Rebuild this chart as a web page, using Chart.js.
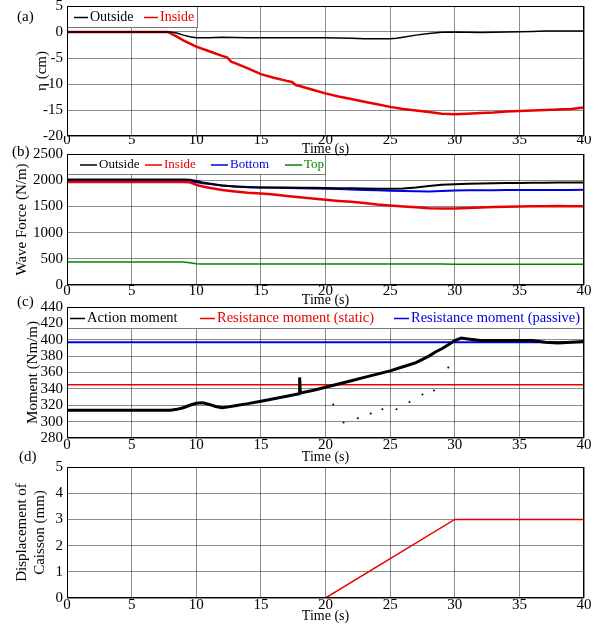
<!DOCTYPE html>
<html>
<head>
<meta charset="utf-8">
<script src="https://cdn.jsdelivr.net/npm/chart.js@4"></script>
<style>
  html, body { margin: 0; padding: 0; background: #fff; }
  #wrap { position: relative; width: 594px; height: 625px; overflow: hidden; }
  #wrap canvas { position: absolute; left: 0; }
</style>
</head>
<body>
<div id="wrap">
  <canvas id="pa" width="594" height="158" style="top:0px"></canvas>
  <canvas id="pb" width="594" height="169" style="top:140px"></canvas>
  <canvas id="pc" width="594" height="173" style="top:293px"></canvas>
  <canvas id="pd" width="594" height="175" style="top:450px"></canvas>
</div>
<script>
// shared x axis ticks (time, s)
const xTicks = [0, 5, 10, 15, 20, 25, 30, 35, 40];

// (a) water level eta (cm)
const etaTicks = [-20, -15, -10, -5, 0, 5];
const tOutA = [0, 8, 8.5, 9, 9.5, 10, 11, 12, 14, 16, 18, 20, 22, 23, 24, 25, 25.5, 26, 27, 28, 29, 30, 32, 34, 36, 37, 38, 40];
const outA  = [0, 0, -0.2, -0.6, -0.9, -1.1, -1.1, -1.0, -1.1, -1.1, -1.1, -1.1, -1.2, -1.3, -1.3, -1.3, -1.2, -1.0, -0.6, -0.3, -0.05, 0, -0.1, 0, 0.1, 0.2, 0.2, 0.2];
const tInA  = [0, 7.8, 8.5, 9, 10, 11, 12, 12.4, 12.7, 13, 14, 15, 16, 17, 17.4, 17.7, 18, 19, 20, 21, 22, 23, 24, 25, 26, 27, 28, 29, 30, 31, 32, 33, 34, 35, 36, 37, 38, 39, 40];
const inA   = [0, 0, -0.9, -1.6, -2.8, -3.7, -4.6, -4.9, -5.7, -6.0, -7.0, -8.1, -8.8, -9.4, -9.6, -10.2, -10.4, -11.1, -11.8, -12.4, -12.9, -13.4, -13.9, -14.4, -14.8, -15.1, -15.4, -15.7, -15.8, -15.7, -15.6, -15.5, -15.3, -15.2, -15.1, -15.0, -14.9, -14.8, -14.5];

// (b) wave force (N/m)
const forceTicks = [0, 500, 1000, 1500, 2000, 2500];
const tB   = [0, 9, 9.5, 10, 10.5, 11, 12, 13, 14, 15, 16, 17, 18, 19, 20, 21, 22, 23, 24, 25, 26, 27, 28, 29, 30, 31, 32, 33, 34, 35, 36, 37, 38, 39, 40];
const outB = [2015, 2015, 2010, 1985, 1955, 1935, 1900, 1880, 1865, 1862, 1860, 1860, 1858, 1855, 1850, 1848, 1845, 1840, 1838, 1835, 1840, 1860, 1890, 1912, 1925, 1932, 1938, 1942, 1945, 1948, 1950, 1952, 1955, 1955, 1958];
const inB  = [1965, 1965, 1960, 1910, 1880, 1855, 1815, 1785, 1760, 1745, 1725, 1700, 1675, 1650, 1625, 1605, 1590, 1565, 1535, 1515, 1500, 1485, 1465, 1460, 1460, 1470, 1480, 1490, 1495, 1500, 1502, 1505, 1508, 1505, 1505];
const botB = [1985, 1985, 1980, 1960, 1940, 1925, 1900, 1880, 1868, 1860, 1855, 1850, 1845, 1840, 1835, 1830, 1822, 1815, 1808, 1800, 1795, 1790, 1785, 1795, 1805, 1808, 1810, 1810, 1812, 1812, 1812, 1815, 1815, 1815, 1818];
const topB = [440, 440, 425, 405, 400, 400, 400, 400, 400, 400, 400, 400, 400, 400, 400, 400, 400, 400, 400, 400, 400, 400, 400, 400, 398, 398, 398, 398, 398, 398, 398, 398, 398, 398, 398];

// (c) moment (Nm/m)
const momentTicks = [280, 300, 320, 340, 360, 380, 400, 420, 440];
const tC   = [0, 2, 4, 6, 8, 8.5, 9, 9.5, 10, 10.5, 11, 11.5, 12, 12.5, 13, 14, 15, 16, 17, 17.95, 18, 18.05, 19, 20, 21, 22, 23, 24, 25, 26, 27, 27.5, 28, 28.5, 29, 29.5, 30, 30.5, 31, 32, 33, 34, 35, 36, 37, 38, 39, 40];
const actC = [314, 314, 314, 314, 314, 315, 317, 320, 322.5, 323, 321, 318.5, 317, 318, 319.5, 322, 325, 328, 331, 334, 354, 335, 338, 342, 346, 350, 354, 358, 362, 367, 372, 376, 380, 385, 389, 394, 399, 402, 401, 399, 399, 399, 399, 399, 397, 396, 397, 398];
const tDots = [20.6, 21.4, 22.5, 23.5, 24.4, 25.5, 26.5, 27.5, 28.4, 29.5];
const dotsC = [321, 299, 304, 310, 315, 315, 324, 333, 338, 366];
const tLim = [0, 40];
const staticC  = [345, 345];
const passiveC = [397, 397];

// (d) displacement of caisson (mm)
const dispTicks = [0, 1, 2, 3, 4, 5];
const tD    = [0, 20, 30, 40];
const dispD = [0, 0, 3, 3];

const BLACK = '#000000', RED = 'rgb(235,0,0)', BLUE = 'rgb(0,0,230)', GREEN = 'rgb(0,135,0)';
const SERIF = '"Liberation Serif", "Times New Roman", serif';

Chart.defaults.font.family = SERIF;
Chart.defaults.color = '#000';

const pts = (xs, ys) => xs.map((x, i) => ({ x: x, y: ys[i] }));

// frame, legend box inside the plot, and the (a)/(b)... tag
const decor = {
  id: 'decor',
  afterDatasetsDraw(chart, args, o) {
    const { ctx, chartArea: a } = chart;
    ctx.save();
    const items = chart.data.datasets.filter(d => d.label);
    const w = o.boxW === 'full' ? a.right - a.left : o.boxW;
    const h = o.boxH;
    if (items.length) {
      ctx.fillStyle = '#fff';
      ctx.fillRect(a.left, a.top, w, h);
      ctx.strokeStyle = '#777';
      ctx.lineWidth = 1;
      ctx.strokeRect(a.left + 0.5, a.top + 0.5, w - 1, h - 1);
    }
    ctx.font = o.fontSize + 'px ' + SERIF;
    ctx.textBaseline = 'middle';
    ctx.textAlign = 'left';
    items.forEach((d, i) => {
      const x = a.left + o.itemX[i], y = a.top + h / 2 + 0.5;
      ctx.strokeStyle = d.borderColor;
      ctx.lineWidth = 1.5;
      ctx.beginPath();
      ctx.moveTo(x, y);
      ctx.lineTo(x + o.lineLen, y);
      ctx.stroke();
      ctx.fillStyle = d.borderColor;
      ctx.fillText(d.label, x + o.lineLen + 2, y);
    });
    ctx.strokeStyle = '#000';
    ctx.lineWidth = 1;
    ctx.strokeRect(Math.round(a.left) + 0.5, Math.round(a.top) + 0.5,
      Math.round(a.right - a.left) - 1, Math.round(a.bottom - a.top) - 1);
    ctx.fillStyle = '#000';
    ctx.font = '15px ' + SERIF;
    ctx.fillText(o.tag, o.tagX, o.tagY);
    ctx.restore();
  }
};

function panel(id, p) {
  return new Chart(document.getElementById(id), {
    type: 'line',
    data: { datasets: p.datasets },
    plugins: [decor],
    options: {
      responsive: false,
      animation: false,
      devicePixelRatio: 1,
      layout: { padding: { top: p.top, right: 10, left: 0, bottom: 0 } },
      elements: { point: { radius: 0 }, line: { tension: 0 } },
      plugins: { legend: { display: false }, tooltip: { enabled: false }, decor: p.decor },
      scales: {
        x: {
          type: 'linear', min: 0, max: 40,
          afterBuildTicks: s => { s.ticks = xTicks.map(v => ({ value: v })); },
          afterFit: s => { s.height = p.xH; s.paddingLeft = 0; s.paddingRight = 0; },
          grid: { color: 'rgba(0,0,0,0.45)', drawTicks: false },
          border: { display: false },
          ticks: { padding: p.xPad, font: { size: 15 }, maxRotation: 0, autoSkip: false },
          title: { display: true, text: 'Time (s)', font: { size: 14 }, padding: 0 }
        },
        y: {
          type: 'linear', min: p.yTicks[0], max: p.yTicks[p.yTicks.length - 1],
          afterBuildTicks: s => { s.ticks = p.yTicks.map(v => ({ value: v })); },
          afterFit: s => { s.width = 67; s.paddingTop = 0; s.paddingBottom = 0; },
          grid: { color: 'rgba(0,0,0,0.45)', drawTicks: false },
          border: { display: false },
          ticks: { padding: 4, font: { size: 15 }, autoSkip: false, callback: v => String(v) },
          title: { display: true, text: p.yTitle, font: { size: 15 }, padding: { top: p.yTitlePad, bottom: 0 } }
        }
      }
    }
  });
}

panel('pa', {
  top: 6, xH: 22, xPad: -4.5, yTicks: etaTicks, yTitle: 'η (cm)', yTitlePad: 33,
  decor: { tag: '(a)', tagX: 17, tagY: 17, boxW: 131, boxH: 22, fontSize: 14, lineLen: 14, itemX: [7, 77] },
  datasets: [
    { label: 'Outside', data: pts(tOutA, outA), borderColor: BLACK, borderWidth: 1.5 },
    { label: 'Inside', data: pts(tInA, inA), borderColor: RED, borderWidth: 2.5 }
  ]
});

panel('pb', {
  top: 14, xH: 24, xPad: -3, yTicks: forceTicks, yTitle: 'Wave Force (N/m)', yTitlePad: 13,
  decor: { tag: '(b)', tagX: 12, tagY: 12, boxW: 259, boxH: 21, fontSize: 13, lineLen: 17, itemX: [13, 78, 144, 218] },
  datasets: [
    { label: 'Outside', data: pts(tB, outB), borderColor: BLACK, borderWidth: 2 },
    { label: 'Inside', data: pts(tB, inB), borderColor: RED, borderWidth: 2.5 },
    { label: 'Bottom', data: pts(tB, botB), borderColor: BLUE, borderWidth: 2 },
    { label: 'Top', data: pts(tB, topB), borderColor: GREEN, borderWidth: 1.5 }
  ]
});

panel('pc', {
  top: 14, xH: 28, xPad: -2, yTicks: momentTicks, yTitle: 'Moment (Nm/m)', yTitlePad: 24,
  decor: { tag: '(c)', tagX: 17, tagY: 9, boxW: 'full', boxH: 22, fontSize: 14.5, lineLen: 15, itemX: [3, 133, 327] },
  datasets: [
    { label: 'Action moment', data: pts(tC, actC), borderColor: BLACK, borderWidth: 3 },
    { label: 'Resistance moment (static)', data: pts(tLim, staticC), borderColor: RED, borderWidth: 1.5 },
    { label: 'Resistance moment (passive)', data: pts(tLim, passiveC), borderColor: BLUE, borderWidth: 2 },
    { data: pts(tDots, dotsC), borderColor: BLACK, showLine: false, pointRadius: 1, pointBackgroundColor: BLACK, pointBorderWidth: 0 }
  ]
});

panel('pd', {
  top: 17, xH: 27, xPad: -2, yTicks: dispTicks, yTitle: ['Displacement of', 'Caisson (mm)'], yTitlePad: 13,
  decor: { tag: '(d)', tagX: 19, tagY: 7, boxW: 0, boxH: 0, fontSize: 14, lineLen: 0, itemX: [] },
  datasets: [
    { data: pts(tD, dispD), borderColor: RED, borderWidth: 1.5 }
  ]
});
</script>
</body>
</html>
